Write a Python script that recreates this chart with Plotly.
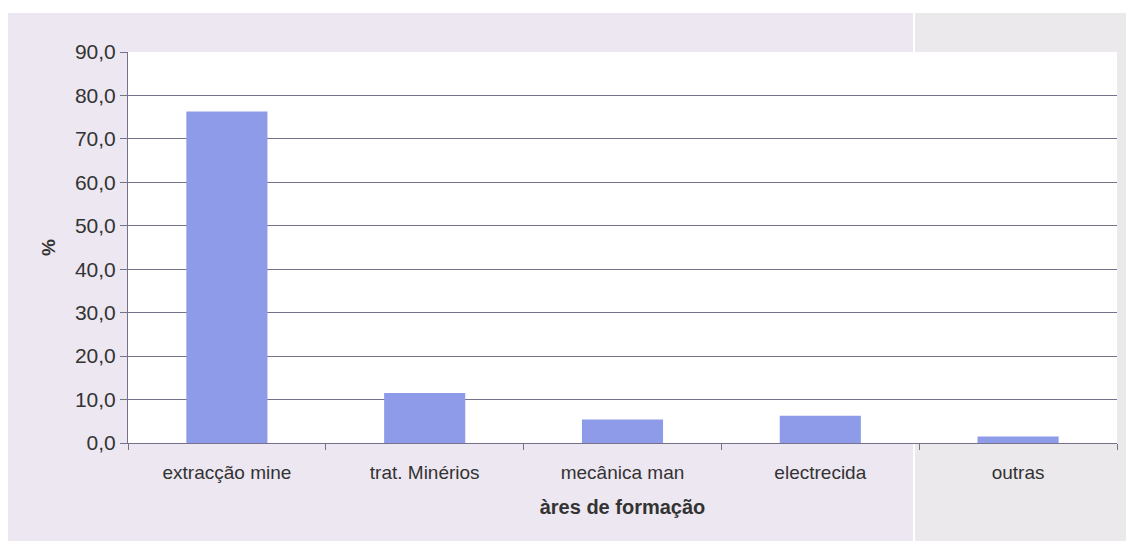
import plotly.graph_objects as go

# Training areas and their share (%)
categories = ["extracção mine", "trat. Minérios", "mecânica man", "electrecida", "outras"]
values = [76.3, 11.5, 5.4, 6.3, 1.5]
y_ticks = [0, 10, 20, 30, 40, 50, 60, 70, 80, 90]

W, H = 1126, 541
L, R, T, B = 128, 9, 52, 98
pw, ph = W - L - R, H - T - B


def px_x(p):
    return (p - L) / pw


def px_y(p):
    return 1 - (p - T) / ph


fig = go.Figure(
    go.Bar(
        x=categories,
        y=values,
        marker=dict(color="#8e9be9", line=dict(width=0)),
        width=0.41,
    )
)

grid = "#75718a"
text_col = "#333333"
fig.update_layout(
    width=W,
    height=H,
    margin=dict(l=L, r=R, t=T, b=B),
    paper_bgcolor="white",
    plot_bgcolor="white",
    separators=",.",
    showlegend=False,
    font=dict(family="Liberation Sans, Arial, sans-serif", color=text_col),
    shapes=[
        # textured backdrop panels behind the chart
        dict(type="rect", xref="paper", yref="paper", layer="below",
             x0=px_x(8), x1=px_x(913), y0=px_y(541), y1=px_y(13),
             fillcolor="#ede7f1", line=dict(width=0)),
        dict(type="rect", xref="paper", yref="paper", layer="below",
             x0=px_x(915), x1=px_x(1126), y0=px_y(541), y1=px_y(13),
             fillcolor="#ebe9ec", line=dict(width=0)),
        # plot area panel
        dict(type="rect", xref="paper", yref="paper", layer="below",
             x0=0, x1=1, y0=0, y1=1,
             fillcolor="white", line=dict(width=0)),
    ],
)

fig.update_xaxes(
    showgrid=False,
    showline=True,
    linecolor=grid,
    linewidth=1,
    ticks="outside",
    tickson="boundaries",
    ticklen=6,
    tickcolor=grid,
    ticklabelstandoff=12,
    tickfont=dict(size=19, color=text_col),
    title=dict(text="<b>àres de formação</b>", font=dict(size=20, color=text_col), standoff=18),
)

fig.update_yaxes(
    range=[0, 90],
    tickvals=y_ticks,
    tickformat=".1f",
    showgrid=True,
    gridcolor=grid,
    gridwidth=1,
    zeroline=False,
    showline=True,
    linecolor=grid,
    linewidth=1,
    ticks="outside",
    ticklen=7,
    tickcolor=grid,
    tickfont=dict(size=21, color=text_col),
    title=dict(text="<b>%</b>", font=dict(size=19, color=text_col), standoff=14),
)

fig.write_html("out.html")
